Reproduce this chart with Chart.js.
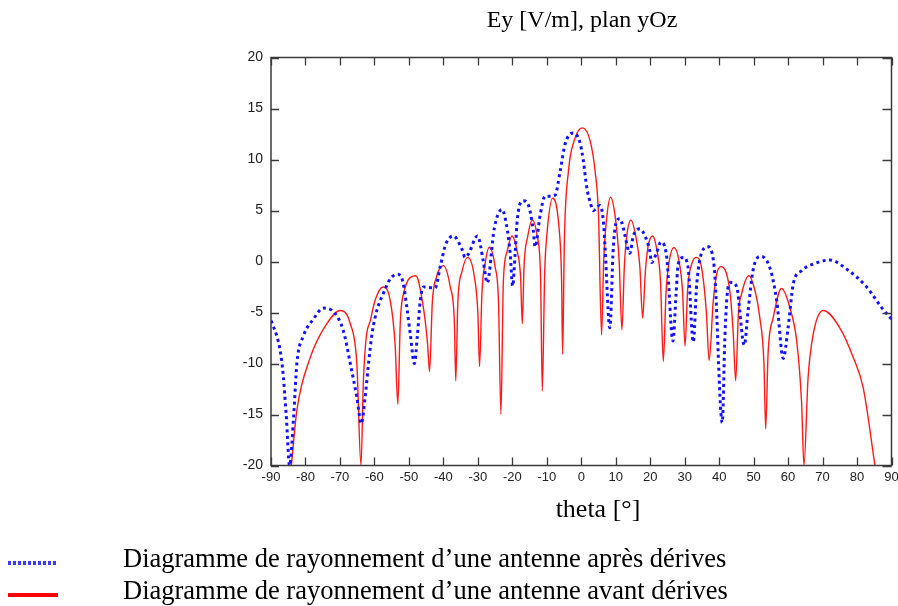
<!DOCTYPE html>
<html>
<head>
<meta charset="utf-8">
<script src="https://cdn.jsdelivr.net/npm/chart.js@4/dist/chart.umd.min.js"></script>
<style>
  html, body { margin: 0; padding: 0; background: #fff; }
  #wrap { position: relative; width: 898px; height: 606px; overflow: hidden; }
  #c { position: absolute; left: 0; top: 0; }
  .txt { position: absolute; font-family: "Liberation Serif", "Times New Roman", serif; color: #000; white-space: nowrap; }
  .sample { position: absolute; height: 4px; }
</style>
</head>
<body>
<div id="wrap">
  <canvas id="c" width="898" height="606"></canvas>
  <div class="txt" id="title" style="left:482px; top:6px; width:200px; text-align:center; font-size:24px;">Ey [V/m], plan yOz</div>
  <div class="txt" id="xlabel" style="left:548px; top:494px; width:100px; text-align:center; font-size:26px;">theta [°]</div>
  <div class="sample" style="left:8px; top:561px; width:50px; background: repeating-linear-gradient(90deg, #3a3aff 0 3px, transparent 3px 5px);"></div>
  <div class="sample" style="left:8px; top:593px; width:50px; background:#ff0000;"></div>
  <div class="txt" style="left:123px; top:543px; font-size:26.5px;">Diagramme de rayonnement d’une antenne après dérives</div>
  <div class="txt" style="left:123px; top:575px; font-size:26.5px;">Diagramme de rayonnement d’une antenne avant dérives</div>
</div>
<script>
// Axis ticks
const xTicks = [-90,-80,-70,-60,-50,-40,-30,-20,-10,0,10,20,30,40,50,60,70,80,90];
const yTicks = [-20,-15,-10,-5,0,5,10,15,20];

// Series "avant dérives" (red)
const avantTheta = [
  -84.1,-82.5,-78.6,-73.8,-69.9,-67,-65.1,-63.9,
  -63.2,-62.4,-61.2,-59.8,-57.5,-55.4,-54,-53.2,
  -52.5,-51.6,-48,-45.8,-44.6,-44,
  -43.2,-42,-40,-38,-36.8,-36.4,
  -35.8,-34.6,-32.9,-31,-30,-29.5,
  -28.8,-27.8,-26.7,-25,-24,-23.3,
  -22.6,-21.5,-20.1,-18.6,-17.6,-17.1,
  -16.6,-15.5,-14.2,-12.8,-11.8,-11.3,
  -10.6,-10,-8.3,-6.5,-5.7,-5.4,
  -4.9,-3.7,-2,0.3,2.6,4.0,5.0,5.9,
  6.5,7.3,8.5,10,11,11.8,
  12.5,13.2,14.4,15.8,17,17.8,
  18.6,19.4,20.7,22,23,23.8,
  24.6,25.5,26.9,28.4,29.4,30.1,
  30.9,32,33.3,34.9,36.3,37.1,
  38.3,39.3,40.5,43.1,44.1,44.8,
  45.6,46.5,48.6,50.5,51.8,53,53.5,
  54.2,55.7,58.1,60.5,62.5,63.9,64.6,
  65.8,67.3,70.2,75,78.9,81.8,85.2
];
const avantEy = [
  -20,-14.6,-9.4,-6.1,-4.8,-6.1,-10,-20,
  -11.7,-7.5,-5.8,-3.8,-2.5,-3.85,-8.1,-14,
  -6,-3.2,-1.4,-4.5,-8,-10.8,
  -4,-1.5,-0.4,-2.5,-6,-11.7,
  -4,-1,0.4,-1.5,-5,-10.3,
  -3,0,1.4,-0.5,-4,-15,
  -2,1,2.5,1,-1.5,-6.1,
  -0.5,2.5,4.06,2.5,-1.5,-12.7,
  -1,2.5,6.2,3.5,-1.9,-9.1,
  2,8.9,11.9,13.1,11.8,8.9,4.6,-7.2,
  0,4,6.3,4,0,-6.7,
  -0.5,2.5,4.06,2.5,-0.5,-5.55,
  -1,1.5,2.5,1,-2,-9.8,
  -3,0,1.37,0,-3,-8.3,
  -2.5,-0.3,0.4,-0.6,-5,-9.7,
  -3.85,-1.2,-0.5,-2.9,-7.1,-11.7,
  -5,-3.2,-1.4,-3,-5.5,-10,-16.4,
  -9,-5.5,-2.65,-4.5,-7.8,-13.7,-20,
  -11.4,-7.1,-4.8,-6.5,-9.4,-12.4,-20
];

// Series "après dérives" (blue dotted)
const apresTheta = [
  -90,-89.7,-86.8,-85.6,-84.6,-83.4,-82.5,-80.6,-77.7,-74.8,-72.3,-69,-67,-65.1,-63.8,
  -62.7,-61.7,-60.7,-59.3,-57.5,-55.4,-53.2,-51.7,-50.6,-49.6,-48.4,
  -47.5,-46.7,-45.8,-42.4,-40.9,-39.5,-38.5,-37.1,-34.6,-33.7,-32.7,-30.1,-28.4,-27.3,
  -25.2,-23,-21.4,-20.6,-19.9,-19.2,-18.5,-16.8,-15.3,-13.9,-13.4,
  -11.9,-10.5,-9.0,-7.6,-6.1,-4.7,-2.3,-0.5,0.6,1.6,2.6,3.5,5.4,6.4,6.9,8.3,
  9.3,10.3,11.2,12.2,12.7,14.1,15.1,17,18.5,19.9,20.4,
  21.7,23.1,24.8,26.6,27.5,28.1,29.6,31,32.5,
  33.5,35.4,36.8,38.3,38.8,40.9,
  41.7,42.6,43.6,45.1,47.3,
  48.4,49.9,52.1,54.7,56.7,58.6,
  60,61.5,63.9,67.3,72.1,77,82.8,87.1,90
];
const apresEy = [
  -5.8,-6.0,-10,-15,-20,-15,-10,-7.3,-5.65,-4.57,-4.8,-6.8,-10,-13.3,-15.9,
  -13.3,-10,-7.1,-4.8,-3.2,-1.7,-1.24,-2.05,-4.5,-7.1,-10,
  -7.1,-3.85,-2.5,-2.6,-0.5,1.5,2.2,2.5,1.2,0.4,0.75,2.5,0,-2.1,
  3.3,5.1,3.0,0.7,-2.4,0.7,4.3,5.95,5.5,3.0,1.44,
  4.6,6.4,6.4,6.5,8.9,11.5,12.6,11.8,9.9,7.25,5.8,5.0,5.5,4.0,1.4,-6.5,
  1.4,4.0,4.2,3.3,2.5,0.8,2.5,3.2,2.5,1.0,-0.1,
  0.7,1.9,0.4,-7.8,-3.2,-0.3,0.4,-0.6,-7.9,
  -2.2,1.2,1.44,0.2,-1.6,-15.8,
  -7.1,-2.5,-2.05,-2.5,-8.2,
  -4.8,-0.75,0.5,-0.6,-3.85,-9.5,
  -6.5,-2.2,-0.9,-0.25,0.14,-0.75,-2.5,-4.5,-5.65
];

const toPts = (xs, ys) => xs.map((x, i) => ({ x: x, y: ys[i] }));

const CA = { left: 271, top: 57.5, right: 891.5, bottom: 465.5 };

const framePlugin = {
  id: 'frame',
  afterDatasetsDraw(chart) {
    const { ctx, chartArea: a, scales } = chart;
    ctx.save();
    ctx.strokeStyle = '#3a3a3a';
    ctx.lineWidth = 1.5;
    ctx.strokeRect(a.left, a.top, a.right - a.left, a.bottom - a.top);
    ctx.lineWidth = 1.3;
    ctx.beginPath();
    xTicks.forEach(v => {
      const px = Math.round(scales.x.getPixelForValue(v)) + 0.5;
      ctx.moveTo(px, a.bottom); ctx.lineTo(px, a.bottom - 8);
      ctx.moveTo(px, a.top); ctx.lineTo(px, a.top + 8);
    });
    yTicks.forEach(v => {
      const py = Math.round(scales.y.getPixelForValue(v)) + 0.5;
      ctx.moveTo(a.left, py); ctx.lineTo(a.left + 8, py);
      ctx.moveTo(a.right, py); ctx.lineTo(a.right - 9, py);
    });
    ctx.stroke();
    ctx.restore();
  }
};

new Chart(document.getElementById('c'), {
  type: 'line',
  data: {
    datasets: [
      {
        label: 'Diagramme de rayonnement d’une antenne après dérives',
        data: toPts(apresTheta, apresEy),
        borderColor: '#1212ff',
        borderWidth: 3,
        borderDash: [3, 3.5],
        pointRadius: 0,
        cubicInterpolationMode: 'monotone',
        fill: false
      },
      {
        label: 'Diagramme de rayonnement d’une antenne avant dérives',
        data: toPts(avantTheta, avantEy),
        borderColor: '#ff1a1a',
        borderWidth: 1.4,
        pointRadius: 0,
        cubicInterpolationMode: 'monotone',
        fill: false
      }
    ]
  },
  options: {
    responsive: false,
    animation: false,
    events: [],
    layout: { padding: { top: CA.top, right: 0, bottom: 606 - CA.bottom - 22, left: 0 } },
    plugins: { legend: { display: false }, title: { display: false }, tooltip: { enabled: false } },
    scales: {
      x: {
        type: 'linear', min: -90, max: 90,
        afterBuildTicks: s => { s.ticks = xTicks.map(v => ({ value: v })); },
        afterFit: s => { s.height = 22; s.paddingRight = 898 - CA.right; s.paddingLeft = 0; },
        grid: { display: false, drawTicks: false },
        border: { display: false },
        ticks: { color: '#222', font: { family: 'Liberation Sans', size: 13 }, padding: 4, maxRotation: 0, autoSkip: false }
      },
      y: {
        type: 'linear', min: -20, max: 20,
        afterBuildTicks: s => { s.ticks = yTicks.map(v => ({ value: v })); },
        afterFit: s => { s.width = CA.left; },
        grid: { display: false, drawTicks: false },
        border: { display: false },
        ticks: { color: '#222', font: { family: 'Liberation Sans', size: 14 }, padding: 8 }
      }
    }
  },
  plugins: [framePlugin]
});
</script>
</body>
</html>
